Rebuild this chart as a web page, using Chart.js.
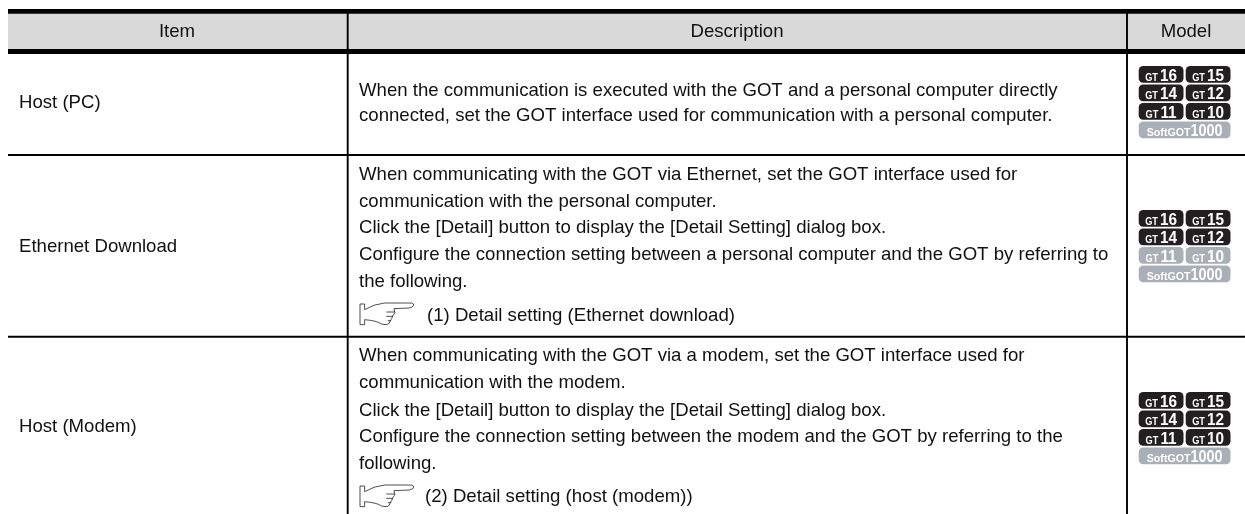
<!DOCTYPE html>
<html><head><meta charset="utf-8">
<style>html,body{margin:0;padding:0;background:#fff;overflow:hidden}canvas{display:block}</style>
<script src="https://cdn.jsdelivr.net/npm/chart.js@4"></script>
</head><body><canvas id="c" width="1245" height="514"></canvas>
<script>
const headers = ["Item","Description","Model"];
const items = ["Host (PC)","Ethernet Download","Host (Modem)"];
const descriptionRow1 = ["When the communication is executed with the GOT and a personal computer directly","connected, set the GOT interface used for communication with a personal computer."];
const descriptionRow2 = ["When communicating with the GOT via Ethernet, set the GOT interface used for","communication with the personal computer.","Click the [Detail] button to display the [Detail Setting] dialog box.","Configure the connection setting between a personal computer and the GOT by referring to","the following.","(1) Detail setting (Ethernet download)"];
const descriptionRow3 = ["When communicating with the GOT via a modem, set the GOT interface used for","communication with the modem.","Click the [Detail] button to display the [Detail Setting] dialog box.","Configure the connection setting between the modem and the GOT by referring to the","following.","(2) Detail setting (host (modem))"];
const baselinesRow1 = [96,121];
const baselinesRow2 = [180,207,233,260,287,321];
const baselinesRow3 = [361,388,416,442,469,502];
const itemBaselines = [108,252,432];
const headerBaseline = 37;
const headerCentres = [177,737,1186];
const modelNames = [["GT","16"],["GT","15"],["GT","14"],["GT","12"],["GT","11"],["GT","10"]];
const softName = ["SoftGOT","1000"];
const activeRow1 = [1,1,1,1,1,1];
const activeRow2 = [1,1,1,1,0,0];
const activeRow3 = [1,1,1,1,1,1];
const badgeTops = [66,210,392];
const badgeColumns = [1138.7,1185.7];
const badgeWidth = 44.8, badgeHeight = 16.8, badgeStep = 18.5, softWidth = 91.8;
const columnRules = [347.7,1127];
const rowRules = [155,336.7];
const tableLeft = 8, tableRight = 1245, tableBottom = 514;
const handTops = [[360,304],[360,486]];
const bandY = 31.5, bandH = 36, topBarY = 11.3, topBarH = 4.7, lowBarY = 51.5, lowBarH = 5;

function seg(x1,y1,x2,y2,w,col,order){
  return {type:'scatter',showLine:true,pointRadius:0,borderWidth:w,borderColor:col,order:order,clip:false,
    data:[{x:x1,y:y1},{x:x2,y:y2}]};
}
const datasets = [
  seg(tableLeft,bandY,tableRight,bandY,bandH,'#d9d9d9',5),
  seg(tableLeft,topBarY,tableRight,topBarY,topBarH,'#000',1),
  seg(tableLeft,lowBarY,tableRight,lowBarY,lowBarH,'#000',1),
];
columnRules.forEach(x=>datasets.push(seg(x,topBarY,x,tableBottom,1.9,'#000',2)));
rowRules.forEach(y=>datasets.push(seg(tableLeft,y,tableRight,y,1.9,'#000',2)));

const FONT = '"Liberation Sans", Arial, sans-serif';
const tablePlugin = {
  id:'tablePlugin',
  afterDatasetsDraw(chart){
    const {ctx,scales:{x:X,y:Y}} = chart;
    const px=v=>X.getPixelForValue(v), py=v=>Y.getPixelForValue(v);
    ctx.save();
    ctx.fillStyle='#111';
    ctx.textBaseline='alphabetic';
    ctx.font='18.6px '+FONT;
    ctx.textAlign='center';
    headers.forEach((h,i)=>ctx.fillText(h,px(headerCentres[i]),py(headerBaseline)));
    ctx.textAlign='left';
    items.forEach((t,i)=>ctx.fillText(t,px(19),py(itemBaselines[i])));
    const drawLines=(lines,bases,handIdx)=>{
      lines.forEach((t,i)=>{
        const isRef = t[0]==='(';
        ctx.fillText(t,px(isRef?(handIdx===0?427:425):359),py(bases[i]));
      });
    };
    drawLines(descriptionRow1,baselinesRow1,-1);
    drawLines(descriptionRow2,baselinesRow2,0);
    drawLines(descriptionRow3,baselinesRow3,1);
    // hands
    handTops.forEach(([hx,hy])=>{
      const hp=(a,b)=>[px(hx)+(a-15)/3.24,py(hy)+(b-18)/3];
      ctx.strokeStyle='#222';ctx.lineWidth=0.8;ctx.beginPath();
      const M=(a,b)=>ctx.moveTo(...hp(a,b)),L=(a,b)=>ctx.lineTo(...hp(a,b)),
            Q=(a,b,c,d)=>ctx.quadraticCurveTo(...hp(a,b),...hp(c,d));
      M(30,18);L(15,18);L(15,80);L(30,80);L(30,65);
      Q(70,68,85,78);Q(110,84,112,70);Q(118,62,122,52);L(128,44);L(125,32);L(175,30);Q(192,26,188,18);Q(185,14,170,15);L(95,15);Q(60,18,30,35);L(30,18);
      M(100,42);L(128,42);M(100,55);L(122,55);M(105,68);L(116,68);
      ctx.stroke();
    });
    // badges
    const squeezed=(text,x,y,font,sx)=>{
      ctx.save();ctx.translate(x,y);ctx.scale(sx,1);ctx.font=font+FONT;ctx.fillText(text,0,0);
      const w=ctx.measureText(text).width*sx;ctx.restore();return w;
    };
    const badge=(x,y,w,name,on)=>{
      const soft = name[0].length>2;
      const f1 = soft?'bold 10.7px ':'bold 10px ', f2 = 'bold 16.5px ';
      const s1 = soft?1:0.92, s2 = soft?0.87:0.93;
      const gap = soft?0:2;
      ctx.fillStyle=on?'#231f20':'#a9afb7';
      ctx.beginPath();ctx.roundRect(px(x),py(y),w,badgeHeight,4.5);ctx.fill();
      ctx.fillStyle='#fff';
      ctx.textAlign='left';
      ctx.font=f1+FONT;
      const a=ctx.measureText(name[0]).width*s1;
      ctx.font=f2+FONT;
      const b=ctx.measureText(name[1]).width*s2;
      const sx=px(x)+(w-a-b-gap)/2;
      squeezed(name[0],sx,py(y)+14.6,f1,s1);
      squeezed(name[1],sx+a+gap,py(y)+14.8,f2,s2);
    };
    [activeRow1,activeRow2,activeRow3].forEach((act,r)=>{
      modelNames.forEach((n,i)=>{
        const c=i%2, row=Math.floor(i/2);
        badge(badgeColumns[c],badgeTops[r]+row*badgeStep,badgeWidth,n,act[i]);
      });
      badge(badgeColumns[0],badgeTops[r]+3*badgeStep,softWidth,softName,0);
    });
    ctx.restore();
  }
};
new Chart(document.getElementById('c'),{
  data:{datasets},
  plugins:[tablePlugin],
  options:{responsive:false,animation:false,devicePixelRatio:1,
    layout:{padding:0},
    plugins:{legend:{display:false},tooltip:{enabled:false}},
    scales:{
      x:{type:'linear',display:false,min:0,max:1245},
      y:{type:'linear',display:false,min:0,max:514,reverse:true}
    }}
});
</script></body></html>
